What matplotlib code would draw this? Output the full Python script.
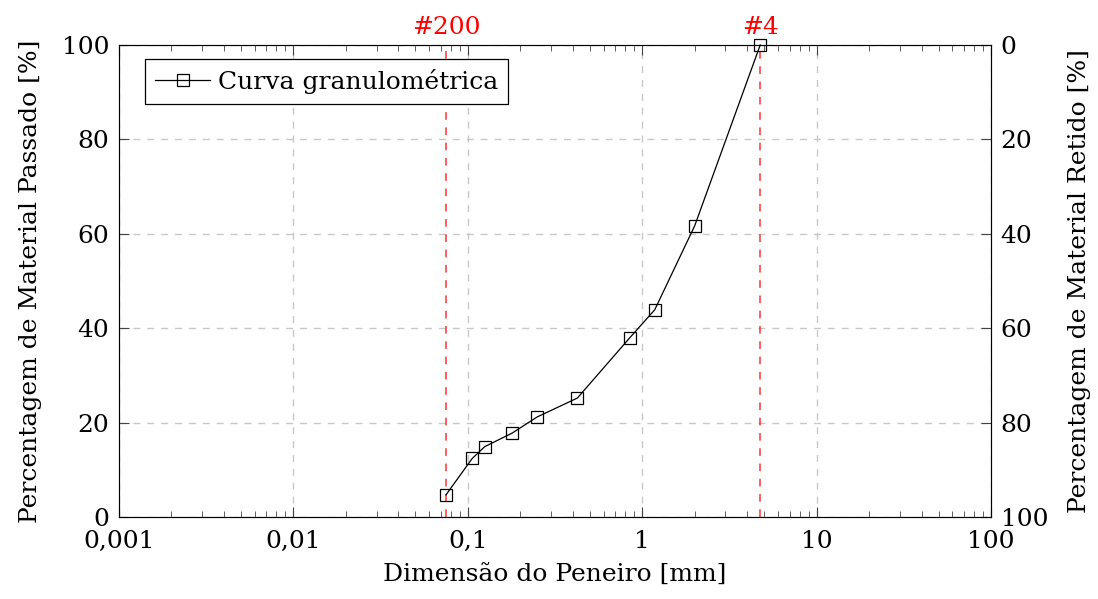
import numpy as np
import matplotlib
matplotlib.use("Agg")
import matplotlib.pyplot as plt
from matplotlib.ticker import FixedLocator, LogLocator, NullFormatter

# dados da curva granulométrica
peneira_mm = [0.075, 0.106, 0.125, 0.18, 0.25, 0.425, 0.85, 1.18, 2.0, 4.75]
passado_pct = [4.7, 12.4, 14.9, 17.8, 21.2, 25.2, 38.0, 43.9, 61.7, 100.0]

ref_mm = [0.075, 4.75]
ref_labels = ["#200", "#4"]

x_ticks = [0.001, 0.01, 0.1, 1, 10, 100]
x_ticklabels = ["0,001", "0,01", "0,1", "1", "10", "100"]
y_ticks = [0, 20, 40, 60, 80, 100]

FS = 18
plt.rcParams["font.family"] = ["DejaVu Serif"]
plt.rcParams["font.size"] = FS

fig = plt.figure(figsize=(10.98, 5.99), dpi=100)
ax = fig.add_axes([119 / 1098, 82 / 599, 872 / 1098, 472 / 599])

ax.set_xscale("log")
ax.set_xlim(0.001, 100)
ax.set_ylim(0, 100)

ax.grid(True, which="major", color="#c8c8c8", linestyle=(0, (5, 5)), linewidth=1)
ax.set_axisbelow(True)

for xr, lab in zip(ref_mm, ref_labels):
    ax.axvline(xr, color="red", linestyle=(0, (5, 5)), linewidth=1.1, alpha=0.8)
    ax.text(xr, 101.3, lab, color="red", ha="center", va="bottom", fontsize=FS)

ax.plot(peneira_mm, passado_pct, color="black", linewidth=0.9, marker="s",
        markersize=9, markerfacecolor="none", markeredgewidth=0.9,
        label="Curva granulométrica", clip_on=False, zorder=5)

ax.xaxis.set_major_locator(FixedLocator(x_ticks))
ax.set_xticklabels(x_ticklabels)
ax.xaxis.set_minor_locator(LogLocator(base=10, subs=np.arange(2, 10), numticks=20))
ax.xaxis.set_minor_formatter(NullFormatter())
ax.set_yticks(y_ticks)

ax.tick_params(which="both", direction="in", top=True, right=False, colors="#444444",
               labelcolor="black", labelsize=FS)
ax.tick_params(which="major", length=7)
ax.tick_params(which="minor", length=4)
ax.tick_params(axis="x", pad=9)
ax.tick_params(axis="y", pad=7)
for sp in ax.spines.values():
    sp.set_color("#444444")

ax.set_xlabel("Dimensão do Peneiro [mm]", fontsize=FS, labelpad=8)
ax.set_ylabel("Percentagem de Material Passado [%]", fontsize=FS, labelpad=14)

ax2 = ax.twinx()
ax2.set_ylim(100, 0)
ax2.set_yticks(y_ticks)
ax2.tick_params(direction="in", length=7, pad=7, colors="#444444", labelcolor="black",
                labelsize=FS)
ax2.set_ylabel("Percentagem de Material Retido [%]", fontsize=FS, labelpad=14)

leg = ax.legend(loc="upper left", bbox_to_anchor=(0.03, 0.97), frameon=True, fancybox=False,
                edgecolor="black", framealpha=1, handlelength=2.2, handletextpad=0.3,
                borderpad=0.4, borderaxespad=0, fontsize=FS)
leg.get_frame().set_linewidth(0.9)

fig.savefig("out.png", dpi=100)
